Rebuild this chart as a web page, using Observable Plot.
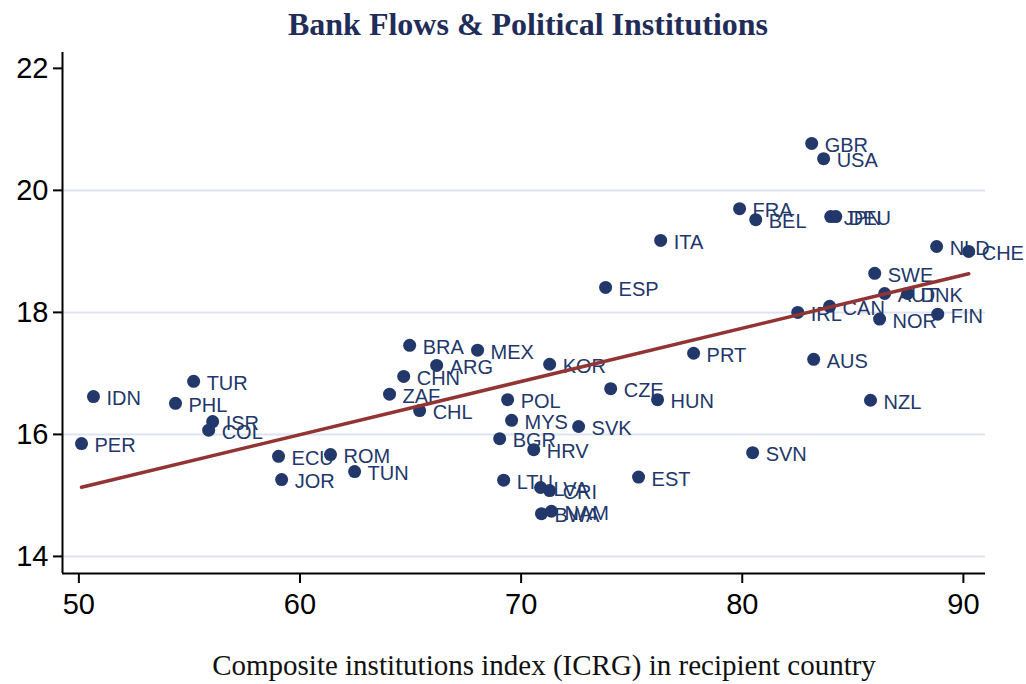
<!DOCTYPE html>
<html>
<head>
<meta charset="utf-8">
<script src="https://cdn.jsdelivr.net/npm/d3@7"></script>
<script src="https://cdn.jsdelivr.net/npm/@observablehq/plot@0.6"></script>
<style>
  html, body { margin: 0; padding: 0; background: #fff; }
  #wrap { width: 1026px; height: 684px; position: relative; overflow: hidden; }
  #title { height: 44px; margin-left: 62px; width: 932px; text-align: center;
           font-family: "Liberation Serif", "Times New Roman", serif; font-weight: bold;
           font-size: 32px; color: #1f2d58; line-height: 48px; }
  #xlabel { position: absolute; left: 72px; width: 944px; top: 647px; text-align: center;
            font-family: "Liberation Serif", "Times New Roman", serif; font-size: 29px; color: #111; line-height: 36px; }
  svg { display: block; }
  .tick-text text { font-size: 29px; }
</style>
</head>
<body>
<div id="wrap">
  <div id="title">Bank Flows &amp; Political Institutions</div>
  <div id="chart"></div>
  <div id="xlabel">Composite institutions index (ICRG) in recipient country</div>
</div>
<script>
const countries = ["GBR","USA","FRA","BEL","JPN","DEU","ITA","NLD","CHE","SWE","AUT","DNK","ESP","IRL","CAN","NOR","FIN",
  "BRA","MEX","ARG","CHN","ZAF","CHL","POL","MYS","BGR","HRV","KOR","PRT","CZE","HUN","SVK","SVN","LTU","EST","LVA","CRI",
  "BWA","NAM","AUS","NZL","IDN","TUR","PHL","ISR","COL","PER","ECU","ROM","JOR","TUN"];
const icrg = [83.14,83.68,79.88,80.61,84.00,84.23,76.31,88.79,90.24,85.99,86.44,87.48,73.82,82.51,83.95,86.21,88.84,
  64.96,68.03,66.18,64.69,64.05,65.41,69.39,69.57,69.03,70.57,71.29,77.80,74.05,76.17,72.60,80.47,69.21,75.31,70.88,71.29,
  70.92,71.37,83.23,85.80,50.66,55.19,54.37,56.05,55.87,50.12,59.03,61.38,59.17,62.47];
const bankFlows = [20.77,20.52,19.70,19.52,19.57,19.57,19.18,19.08,19.00,18.64,18.31,18.31,18.41,18.00,18.10,17.89,17.97,
  17.46,17.38,17.13,16.95,16.66,16.39,16.57,16.23,15.93,15.75,17.15,17.33,16.75,16.57,16.13,15.70,15.25,15.30,15.13,15.08,
  14.70,14.74,17.23,16.56,16.62,16.87,16.51,16.21,16.07,15.85,15.64,15.67,15.26,15.39];
const xTicks = [50, 60, 70, 80, 90];
const yTicks = [14, 16, 18, 20, 22];
const gridY = [14, 16, 18, 20];

const data = countries.map((c, i) => ({country: c, icrg: icrg[i], flows: bankFlows[i]}));
const xDomain = [49.26, 91.0];
const yDomain = [13.72, 22.26];
const navy = "#22376a";
const sans = "Liberation Sans, Arial, sans-serif";

const chart = Plot.plot({
  width: 1026,
  height: 584,
  marginLeft: 62,
  marginRight: 41,
  marginTop: 8,
  marginBottom: 55,
  style: {fontFamily: sans, color: "#000", background: "#fff"},
  x: {domain: xDomain},
  y: {domain: yDomain},
  marks: [
    Plot.ruleY(gridY, {stroke: "#dde4ef", strokeWidth: 2}),
    Plot.dot(data, {x: "icrg", y: "flows", r: 6.5, fill: navy, stroke: "none"}),
    Plot.text(data, {x: "icrg", y: "flows", text: "country", dx: 13, dy: 2, textAnchor: "start",
      fill: navy, fontSize: 20, fontFamily: sans}),
    Plot.linearRegressionY(data, {x: "icrg", y: "flows", ci: 0, stroke: "#933434", strokeWidth: 3.5}),
    Plot.ruleX([xDomain[0]], {stroke: "#000", strokeWidth: 2}),
    Plot.ruleY([yDomain[0]], {stroke: "#000", strokeWidth: 2}),
    Plot.axisX({ticks: xTicks, tickSize: 10, tickPadding: 10, label: null, stroke: "#000", strokeWidth: 2,
      fill: "#000", fontSize: 29, fontFamily: sans, className: "tick-text"}),
    Plot.axisY({ticks: yTicks, tickSize: 9, tickPadding: 5, label: null, stroke: "#000", strokeWidth: 2,
      fill: "#000", fontSize: 29, fontFamily: sans, className: "tick-text"})
  ]
});
document.getElementById("chart").appendChild(chart);
</script>
</body>
</html>
